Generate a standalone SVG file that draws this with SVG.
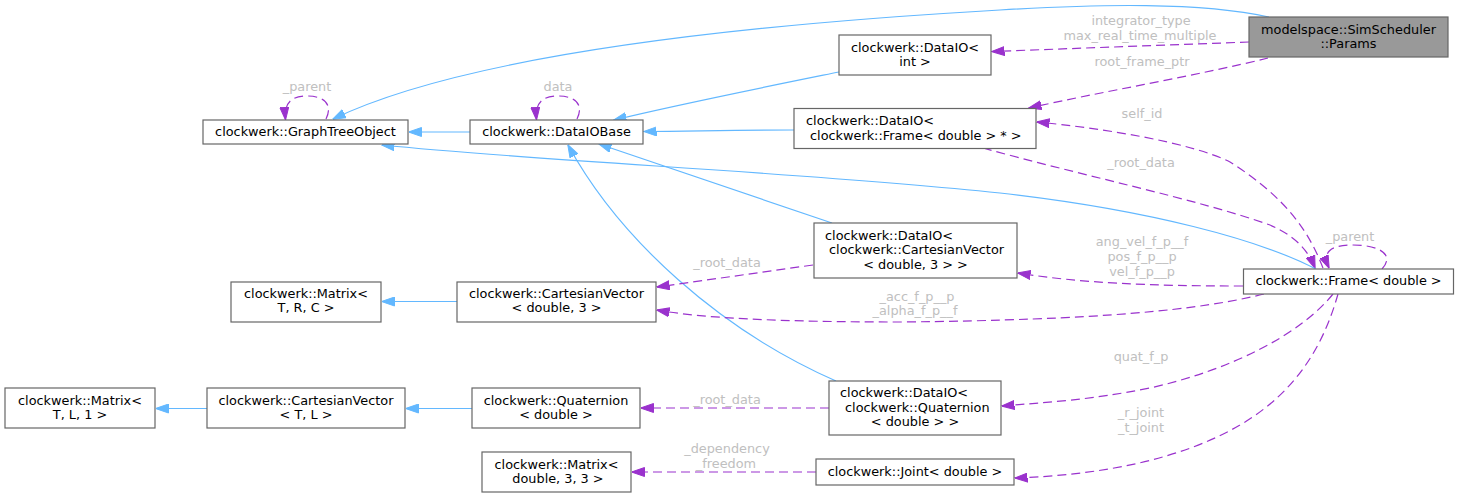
<svg xmlns="http://www.w3.org/2000/svg" width="1460" height="498" viewBox="0 0 1460 498">
<style>
.box{fill:#ffffff;stroke:#666666;stroke-width:1.2}
.hl{fill:#999999;stroke:#666666;stroke-width:1.2}
.t{font-family:"DejaVu Sans",sans-serif;font-size:12.85px;fill:#000000}
.c{text-anchor:middle}
.lbl{font-family:"DejaVu Sans",sans-serif;font-size:12.85px;fill:#c0c0c0;text-anchor:middle}
.inh{fill:none;stroke:#63b8ff;stroke-width:1.2;marker-end:url(#ab)}
.use{fill:none;stroke:#9a32cd;stroke-width:1.2;stroke-dasharray:9,5;marker-end:url(#ap)}
</style>
<defs>
<marker id="ab" markerUnits="userSpaceOnUse" markerWidth="13" markerHeight="10" viewBox="0 0 13 10" refX="12.5" refY="5" orient="auto">
<path d="M0,0.5 L13,5 L0,9.5 z" fill="#63b8ff" stroke="#63b8ff" stroke-width="1"/>
</marker>
<marker id="ap" markerUnits="userSpaceOnUse" markerWidth="13" markerHeight="10" viewBox="0 0 13 10" refX="12.5" refY="5" orient="auto">
<path d="M0,0.5 L13,5 L0,9.5 z" fill="#9a32cd" stroke="#9a32cd" stroke-width="1" stroke-dasharray="none"/>
</marker>
</defs>
<rect width="1460" height="498" fill="#ffffff"/>
<g id="connectors">
<path class="inh" d="M1269,17 C1200,2 1100,4 1000,10 C720,26 460,58 333,119"/>
<path class="use" d="M1249,42 L992,51.5"/>
<text class="lbl" x="1141" y="25">integrator_type</text>
<text class="lbl" x="1140" y="39.5">max_real_time_multiple</text>
<path class="use" d="M1268,58 C1200,75 1100,92 1029,108"/>
<text class="lbl" x="1142" y="66">root_frame_ptr</text>
<path class="inh" d="M839,72 C760,88 680,104 614,120"/>
<path class="inh" d="M794,130 C740,130 700,131 644,131.5"/>
<path class="inh" d="M470,132 L409,132"/>
<path class="use" d="M326,119 C333,105 325,96 307,96 C290,96 284,104 285.5,119.5"/>
<text class="lbl" x="307" y="91">_parent</text>
<path class="use" d="M577,119 C584,105 576,96 558,96 C541,96 535,104 536.5,119.5"/>
<text class="lbl" x="558" y="91">data</text>
<path class="use" d="M1323,268 C1310,235 1290,200 1230,162 C1190,142 1100,128 1037,122"/>
<text class="lbl" x="1142" y="118">self_id</text>
<path class="use" d="M983,148 C1080,175 1200,200 1270,225 C1295,236 1308,250 1315,268"/>
<text class="lbl" x="1141" y="167">_root_data</text>
<path class="use" d="M1382,269 C1395,255 1380,245 1353,245 C1330,245 1322,252 1329,268"/>
<text class="lbl" x="1350" y="241">_parent</text>
<path class="inh" d="M1316,269 C1260,240 1150,210 1000,193 C800,172 550,162 382,145"/>
<path class="inh" d="M832,223 C780,206 700,178 599,144"/>
<path class="inh" d="M836,381 C720,330 620,240 568,145"/>
<path class="use" d="M1243,286 C1150,286 1080,283 1018,273"/>
<text class="lbl" x="1142" y="246">ang_vel_f_p__f</text>
<text class="lbl" x="1142" y="261">pos_f_p__p</text>
<text class="lbl" x="1142" y="276">vel_f_p__p</text>
<path class="use" d="M1264,294 C1200,310 1100,320 900,322 C780,322 700,318 657,310"/>
<text class="lbl" x="917" y="301">_acc_f_p__p</text>
<text class="lbl" x="915" y="314.5">_alpha_f_p__f</text>
<path class="use" d="M813,265 L657,287"/>
<text class="lbl" x="727" y="267">_root_data</text>
<path class="inh" d="M457,301.5 L382,301.5"/>
<path class="use" d="M1333,294 C1300,335 1230,370 1150,388 C1090,400 1050,402 1002,406"/>
<text class="lbl" x="1141" y="361">quat_f_p</text>
<path class="use" d="M1338,294 C1325,340 1300,390 1240,425 C1180,460 1100,475 1015,478"/>
<text class="lbl" x="1141" y="417">_r_joint</text>
<text class="lbl" x="1141" y="432">_t_joint</text>
<path class="use" d="M829,408 L641,408"/>
<text class="lbl" x="727" y="404">_root_data</text>
<path class="use" d="M816,472 L632,472"/>
<text class="lbl" x="727" y="453">_dependency</text>
<text class="lbl" x="726" y="467.5">_freedom</text>
<path class="inh" d="M472,408.5 L406,408.5"/>
<path class="inh" d="M207,408.5 L156,408.5"/>
</g>
<g id="node-params">
<rect class="hl" x="1249" y="17" width="199" height="40"/>
<text class="t c" x="1348.5" y="33.5">modelspace::SimScheduler</text>
<text class="t c" x="1348.5" y="48">::Params</text>
</g>
<g id="node-dataio-int">
<rect class="box" x="839" y="35" width="152" height="40"/>
<text class="t c" x="915" y="51.5">clockwerk::DataIO&lt;</text>
<text class="t c" x="915" y="66">int &gt;</text>
</g>
<g id="node-dataio-frame">
<rect class="box" x="794" y="108.5" width="242" height="40"/>
<text class="t" x="806" y="125">clockwerk::DataIO&lt;</text>
<text class="t" x="810" y="139.5">clockwerk::Frame&lt; double &gt; * &gt;</text>
</g>
<g id="node-graphtreeobject">
<rect class="box" x="203" y="120" width="205" height="24"/>
<text class="t c" x="305.5" y="135.5">clockwerk::GraphTreeObject</text>
</g>
<g id="node-dataiobase">
<rect class="box" x="470" y="120" width="173" height="24"/>
<text class="t c" x="556.5" y="135.5">clockwerk::DataIOBase</text>
</g>
<g id="node-frame">
<rect class="box" x="1243.5" y="269" width="210" height="25"/>
<text class="t c" x="1348.5" y="284.5">clockwerk::Frame&lt; double &gt;</text>
</g>
<g id="node-dataio-cv">
<rect class="box" x="814" y="223" width="203" height="55"/>
<text class="t" x="825" y="239.5">clockwerk::DataIO&lt;</text>
<text class="t" x="829" y="254">clockwerk::CartesianVector</text>
<text class="t c" x="915.5" y="268.5">&lt; double, 3 &gt; &gt;</text>
</g>
<g id="node-cv-double3">
<rect class="box" x="457" y="282" width="199" height="40"/>
<text class="t c" x="556.5" y="297.5">clockwerk::CartesianVector</text>
<text class="t c" x="556.5" y="312">&lt; double, 3 &gt;</text>
</g>
<g id="node-matrix-trc">
<rect class="box" x="231" y="282" width="150" height="40"/>
<text class="t c" x="306" y="297.5">clockwerk::Matrix&lt;</text>
<text class="t c" x="306" y="312">T, R, C &gt;</text>
</g>
<g id="node-matrix-tl1">
<rect class="box" x="5" y="388" width="150" height="40"/>
<text class="t c" x="80" y="404.5">clockwerk::Matrix&lt;</text>
<text class="t c" x="80" y="419">T, L, 1 &gt;</text>
</g>
<g id="node-cv-tl">
<rect class="box" x="207" y="388" width="198" height="40"/>
<text class="t c" x="306" y="404.5">clockwerk::CartesianVector</text>
<text class="t c" x="306" y="419">&lt; T, L &gt;</text>
</g>
<g id="node-quaternion">
<rect class="box" x="472" y="388" width="168" height="40"/>
<text class="t c" x="556" y="404.5">clockwerk::Quaternion</text>
<text class="t c" x="556" y="419">&lt; double &gt;</text>
</g>
<g id="node-dataio-quaternion">
<rect class="box" x="829" y="381" width="172" height="54"/>
<text class="t" x="840" y="397">clockwerk::DataIO&lt;</text>
<text class="t" x="845" y="411.5">clockwerk::Quaternion</text>
<text class="t c" x="915" y="426">&lt; double &gt; &gt;</text>
</g>
<g id="node-matrix-d33">
<rect class="box" x="482" y="452" width="149" height="40"/>
<text class="t c" x="556.5" y="468.5">clockwerk::Matrix&lt;</text>
<text class="t c" x="558" y="483">double, 3, 3 &gt;</text>
</g>
<g id="node-joint">
<rect class="box" x="816" y="459" width="198" height="26"/>
<text class="t c" x="915" y="475.5">clockwerk::Joint&lt; double &gt;</text>
</g>
</svg>
